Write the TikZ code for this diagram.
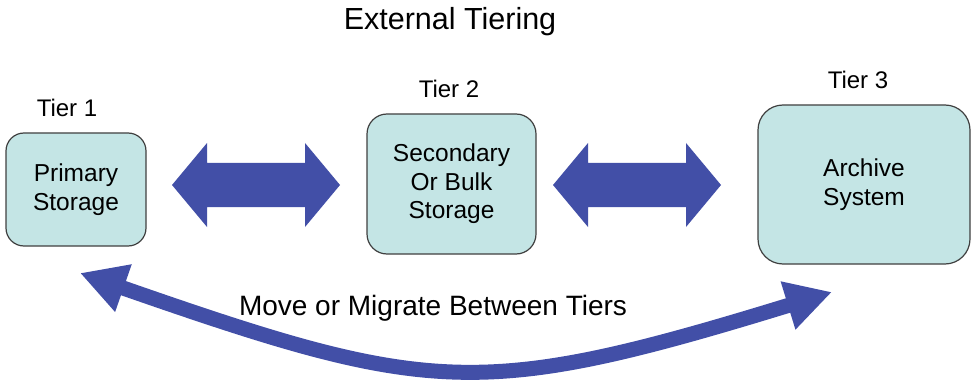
\documentclass[tikz,border=0pt]{standalone}
\usepackage{fontspec}
\setmainfont{Liberation Sans}
\usetikzlibrary{arrows.meta}
\definecolor{boxfill}{RGB}{196,229,229}
\definecolor{boxline}{RGB}{64,64,64}
\definecolor{arrowblue}{RGB}{66,79,167}
\tikzset{
  tierbox/.style={draw=boxline, line width=1.2pt, fill=boxfill, inner sep=0pt, align=center,
    font=\fontsize{24.5}{28.5}\selectfont},
  tierlabel/.style={anchor=base, inner sep=0pt, font=\fontsize{24}{28}\selectfont},
  blockarrow/.style={fill=arrowblue, draw=none},
  migrate/.style={draw=arrowblue, line width=15pt,
    arrows={Triangle[length=46pt,width=47pt,fill=arrowblue]-Triangle[length=46pt,width=47pt,fill=arrowblue]}}
}
\begin{document}
\begin{tikzpicture}[x=1pt,y=-1pt]
\useasboundingbox (0,0) rectangle (972,385);
% title
\node[anchor=base, inner sep=0pt, font=\fontsize{30.5}{34}\selectfont] (title) at (450,30) {External Tiering};
% tier labels
\node[tierlabel] (t1) at (67,117) {Tier 1};
\node[tierlabel] (t2) at (449,98) {Tier 2};
\node[tierlabel] (t3) at (858,89) {Tier 3};
% boxes
\node[tierbox, rounded corners=18pt, minimum width=140pt, minimum height=113pt] (b1) at (76,189.5) {Primary\\Storage};
\node[tierbox, rounded corners=20pt, minimum width=169pt, minimum height=140pt] (b2) at (451.5,184) {Secondary\\Or Bulk\\Storage};
\node[tierbox, rounded corners=25pt, minimum width=212pt, minimum height=159pt] (b3) at (864,184.5) {Archive\\System};
% block double arrows
\fill[blockarrow] (172,185) -- (207,143) -- (207,163) -- (305,163) -- (305,143) -- (340,185)
  -- (305,227) -- (305,207) -- (207,207) -- (207,227) -- cycle;
\fill[blockarrow] (553,185) -- (588,143) -- (588,163) -- (686,163) -- (686,143) -- (721,185)
  -- (686,227) -- (686,207) -- (588,207) -- (588,227) -- cycle;
% curved migrate arrow
\coordinate (lt) at (80,273);
\coordinate (rt) at (832,292);
\draw[migrate] (lt) .. controls (430,395) and (480,400) .. (rt);
\node[anchor=base, inner sep=0pt, font=\fontsize{28}{32}\selectfont] (mv) at (433,315) {Move or Migrate Between Tiers};
\end{tikzpicture}
\end{document}
